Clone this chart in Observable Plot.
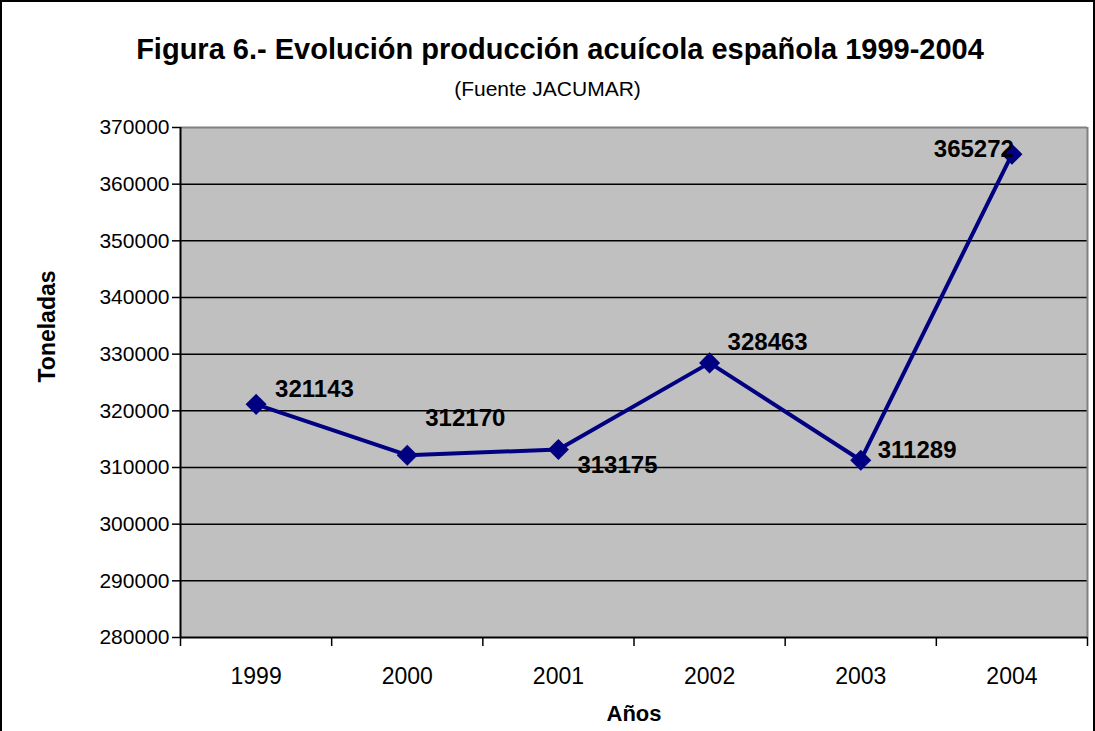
<!DOCTYPE html>
<html>
<head>
<meta charset="utf-8">
<script src="https://cdn.jsdelivr.net/npm/d3@7"></script>
<script src="https://cdn.jsdelivr.net/npm/@observablehq/plot@0.6"></script>
<style>
  body { margin: 0; background: #fff; font-family: "Liberation Sans", Arial, sans-serif; }
  #wrap { position: relative; width: 1095px; height: 731px; overflow: hidden; background: #fff; }
  #border { position: absolute; left: 0; top: 0; width: 1095px; height: 740px; box-sizing: border-box; border: 2px solid #000; pointer-events: none; }
  #title { position: absolute; left: 25px; width: 1070px; top: 35px; text-align: center; font-weight: bold; font-size: 29px; line-height: 29px; color: #000; white-space: nowrap; }
  #subtitle { position: absolute; left: 0; width: 1095px; top: 78px; text-align: center; font-size: 21px; line-height: 21px; color: #000; white-space: nowrap; }
  #chart { position: absolute; left: 0; top: 0; }
</style>
</head>
<body>
<div id="wrap">
  <div id="chart"></div>
  <div id="title">Figura 6.- Evolución producción acuícola española 1999-2004</div>
  <div id="subtitle">(Fuente JACUMAR)</div>
  <div id="border"></div>
</div>
<script>
// ---- data ----
const years = ["1999", "2000", "2001", "2002", "2003", "2004"];
const production = [321143, 312170, 313175, 328463, 311289, 365272];
const yTickValues = [280000, 290000, 300000, 310000, 320000, 330000, 340000, 350000, 360000, 370000];
const xAxisTitle = "Años";
const yAxisTitle = "Toneladas";

// ---- label placement (layout, pixels) ----
const labelDx = [19, 18, 19, 18, 17, 2];
const labelDy = [-15, -37, 16, -21, -10, -5];
const labelAnchor = ["start", "start", "start", "start", "start", "end"];

const data = years.map((yr, i) => ({i, year: yr, value: production[i]}));
const yMin = yTickValues[0], yMax = yTickValues[yTickValues.length - 1];
const navy = "#000080";
const font = "'Liberation Sans', Arial, sans-serif";

const labelMarks = data.map((d, k) =>
  Plot.text([d], {
    x: "i", y: "value", text: dd => String(dd.value),
    dx: labelDx[k], dy: labelDy[k], textAnchor: labelAnchor[k],
    fontSize: 24, fontWeight: "bold", fill: "#000", lineAnchor: "middle"
  })
);

const chart = Plot.plot({
  width: 1095,
  height: 731,
  marginTop: 127,
  marginLeft: 180,
  marginRight: 8,
  marginBottom: 94,
  style: {fontFamily: font, color: "#000", background: "transparent", overflow: "visible"},
  x: {type: "linear", domain: [-0.5, years.length - 0.5]},
  y: {type: "linear", domain: [yMin, yMax]},
  marks: [
    Plot.frame({fill: "#C0C0C0", stroke: "none"}),
    Plot.ruleY(yTickValues.slice(1, -1), {stroke: "#000", strokeWidth: 1.5}),
    Plot.ruleY([yMax], {stroke: "#808080", strokeWidth: 2}),
    Plot.ruleX([years.length - 0.5], {stroke: "#808080", strokeWidth: 2}),
    Plot.ruleX([-0.5], {stroke: "#000", strokeWidth: 2}),
    Plot.ruleY([yMin], {stroke: "#000", strokeWidth: 2}),
    Plot.axisY({ticks: yTickValues, tickSize: 8, tickPadding: 3, tickFormat: d => String(d), fontSize: 21, stroke: "#000", strokeWidth: 1.5, label: null}),
    Plot.axisX({ticks: d3.range(-0.5, years.length, 1), tickSize: 9, tickFormat: () => "", stroke: "#000", strokeWidth: 1.5, label: null}),
    Plot.axisX({ticks: d3.range(0, years.length), tickSize: 0, tickPadding: 30, tickFormat: i => years[i], fontSize: 23, label: null}),
    Plot.line(data, {x: "i", y: "value", stroke: navy, strokeWidth: 4}),
    Plot.dot(data, {x: "i", y: "value", symbol: "diamond2", r: 9.5, fill: navy, stroke: "none"}),
    ...labelMarks,
    Plot.text([xAxisTitle], {frameAnchor: "bottom", dy: 76, fontSize: 22, fontWeight: "bold", fill: "#000", lineAnchor: "middle"}),
    Plot.text([yAxisTitle], {frameAnchor: "left", dx: -133, rotate: -90, fontSize: 23, fontWeight: "bold", fill: "#000", lineAnchor: "middle"})
  ]
});
document.getElementById("chart").appendChild(chart);
</script>
</body>
</html>
